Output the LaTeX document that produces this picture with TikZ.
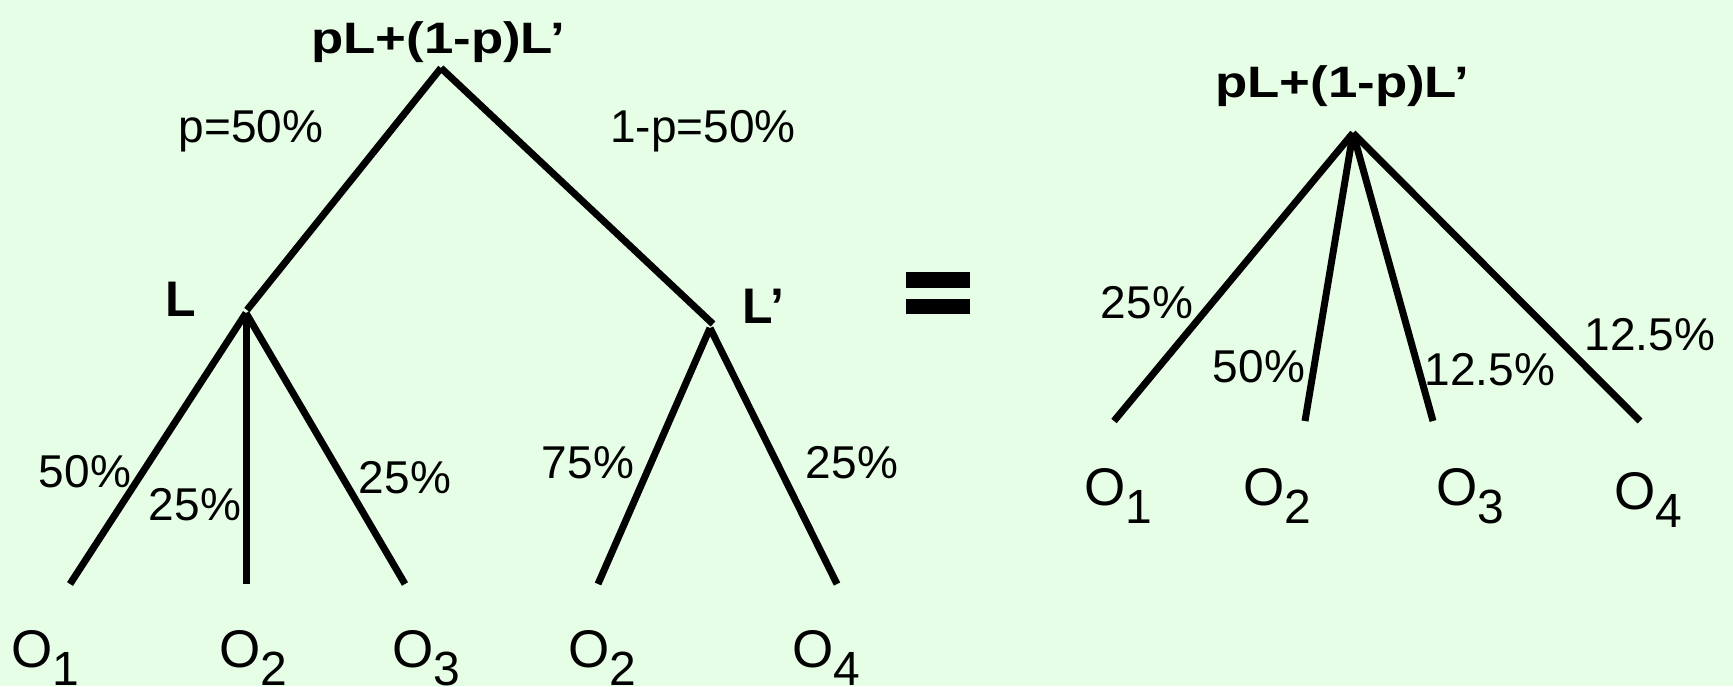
\documentclass[tikz,border=0pt]{standalone}
\usepackage{fontspec}
\setmainfont{Liberation Sans}
\definecolor{bg}{RGB}{229,254,229}
\newcommand\osub[1]{O\raisebox{-18pt}{\fontsize{48}{56}\selectfont #1}}
\begin{document}
\begin{tikzpicture}[x=1pt,y=-1pt,
  branch/.style={line width=7pt,line cap=butt,black},
  lbl/.style={inner sep=0pt,anchor=base,font=\fontsize{46}{54}\selectfont},
  ttl/.style={inner sep=0pt,anchor=base,font=\fontsize{44}{52}\selectfont\bfseries},
  lott/.style={inner sep=0pt,anchor=base west,font=\fontsize{50}{58}\selectfont\bfseries},
  olbl/.style={inner sep=0pt,anchor=base west,font=\fontsize{53}{60}\selectfont}]
\fill[bg] (0,0) rectangle (1733,686);
\useasboundingbox (0,0) rectangle (1733,686);
% left tree
\coordinate (A) at (441,68);
\coordinate (Lt) at (247,310);
\coordinate (Lpt) at (713,324);
\coordinate (LJ) at (246,313);
\coordinate (RJ) at (710,328);
\coordinate (l1) at (70,584);
\coordinate (l2) at (246,584);
\coordinate (l3) at (405,584);
\coordinate (l4) at (598,584);
\coordinate (l5) at (837,584);
\draw[branch] (A) -- (Lt);
\draw[branch] (A) -- (Lpt);
\draw[branch] (LJ) -- (l1);
\draw[branch] (LJ) -- (l3);
\draw[branch] (LJ) -- (l2);
\draw[branch] (RJ) -- (l4);
\draw[branch] (RJ) -- (l5);
\node[ttl] (t1) at (438,53) {\scalebox{1.2}[1]{pL+(1-p)L’}};
\node[lbl] (p1) at (251,142) {p=50\%};
\node[lbl] (p2) at (703,142) {1-p=50\%};
\node[lott] (nL) at (165,316) {L};
\node[lott] (nLp) at (742,323) {L’};
\node[lbl] (q1) at (85,487) {50\%};
\node[lbl] (q2) at (195,520) {25\%};
\node[lbl] (q3) at (405,493) {25\%};
\node[lbl] (q4) at (588,478) {75\%};
\node[lbl] (q5) at (852,478) {25\%};
\node[olbl] (o1) at (11,667) {\osub{1}};
\node[olbl] (o2) at (219,667) {\osub{2}};
\node[olbl] (o3) at (392,667) {\osub{3}};
\node[olbl] (o4) at (568,667) {\osub{2}};
\node[olbl] (o5) at (792,667) {\osub{4}};
% equals sign
\fill[black] (906,272) rectangle (970,288);
\fill[black] (906,299) rectangle (970,314);
% right tree
\coordinate (B) at (1353,133);
\coordinate (r1) at (1114,421);
\coordinate (r2) at (1305,421);
\coordinate (r3) at (1433,421);
\coordinate (r4) at (1640,421);
\draw[branch] (B) -- (r1);
\draw[branch] (B) -- (r2);
\draw[branch] (B) -- (r3);
\draw[branch] (B) -- (r4);
\node[ttl] (t2) at (1342,97) {\scalebox{1.2}[1]{pL+(1-p)L’}};
\node[lbl] (s1) at (1147,318) {25\%};
\node[lbl] (s2) at (1259,382) {50\%};
\node[lbl] (s3) at (1490,385) {12.5\%};
\node[lbl] (s4) at (1650,350) {12.5\%};
\node[olbl] (u1) at (1084,505) {\osub{1}};
\node[olbl] (u2) at (1243,505) {\osub{2}};
\node[olbl] (u3) at (1436,505) {\osub{3}};
\node[olbl] (u4) at (1614,509) {\osub{4}};
\end{tikzpicture}
\end{document}
